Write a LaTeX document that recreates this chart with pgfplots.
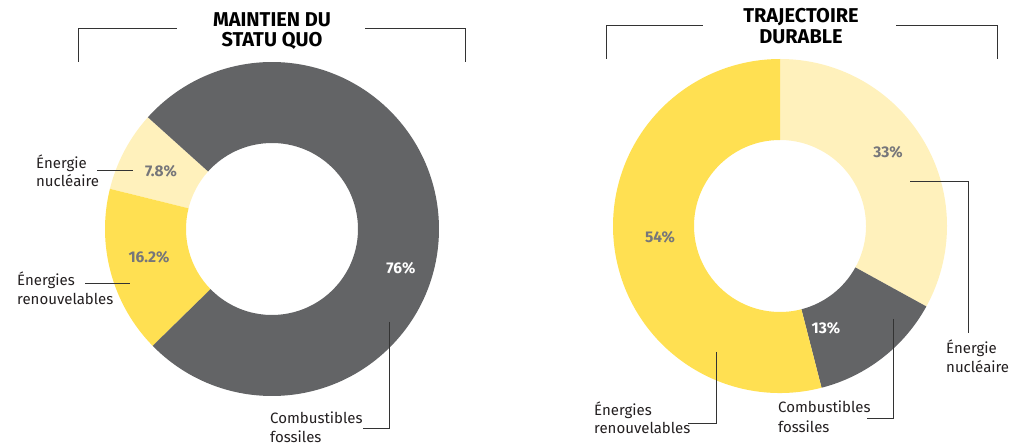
\documentclass[border=0pt]{standalone}
\usepackage{pgfplots}
\usepackage{pgfplotstable}
\pgfplotsset{compat=1.18}
\usepackage{fontspec}
\setmainfont{Fira Sans}
\definecolor{fos}{HTML}{636466}
\definecolor{ren}{HTML}{FFE052}
\definecolor{nuc}{HTML}{FFF1BC}
\definecolor{pct}{HTML}{76767A}
\definecolor{ln}{HTML}{333333}
\definecolor{txt}{HTML}{231F20}
\newcommand\lab{\fontsize{15}{18}\selectfont}
\newcommand\pc{\fontsize{15.5}{18}\selectfont\bfseries}
\newcommand\ttl{\fontsize{20}{23}\selectfont\bfseries}
% donut segment: cx, cy, start angle, end angle, colour
\newcommand\seg[5]{\fill[#5, shift={(axis cs:#1,#2)}] (#3:167pt) arc[start angle=#3,end angle=#4,radius=167pt] -- (#4:86pt) arc[start angle=#4,end angle=#3,radius=86pt] -- cycle;}

\pgfplotstableread{
seg value
nuc 7.8
ren 16.2
fos 76
}\statuquo
\pgfplotstableread{
seg value
nuc 33
fos 13
ren 54
}\durable

\begin{document}
\begin{tikzpicture}
% left: counter-clockwise from 138 deg
\pgfplotstablegetelem{0}{value}\of\statuquo \pgfmathsetmacro\La{138}
\pgfmathsetmacro\Lb{\La+3.6*\pgfplotsretval}
\pgfplotstablegetelem{1}{value}\of\statuquo \pgfmathsetmacro\Lc{\Lb+3.6*\pgfplotsretval}
\pgfplotstablegetelem{2}{value}\of\statuquo \pgfmathsetmacro\Ld{\Lc+3.6*\pgfplotsretval}
% right: clockwise from 90 deg
\pgfplotstablegetelem{0}{value}\of\durable \pgfmathsetmacro\Ra{90}
\pgfmathsetmacro\Rb{\Ra-3.6*\pgfplotsretval}
\pgfplotstablegetelem{1}{value}\of\durable \pgfmathsetmacro\Rc{\Rb-3.6*\pgfplotsretval}
\pgfplotstablegetelem{2}{value}\of\durable \pgfmathsetmacro\Rd{\Rc-3.6*\pgfplotsretval}
\begin{axis}[x=1pt, y=1pt, y dir=reverse, xmin=0, xmax=1023, ymin=0, ymax=446,
  hide axis, clip=false, scale only axis]
\path (axis cs:0,0) rectangle (axis cs:1023,446);
% left donut
\seg{272}{229}{\La}{\Lb}{nuc}
\seg{272}{229}{\Lb}{\Lc}{ren}
\seg{272}{229}{\Lc}{\Ld}{fos}
% right donut
\seg{780}{226}{\Ra}{\Rb}{nuc}
\seg{780}{226}{\Rb}{\Rc}{fos}
\seg{780}{226}{\Rc}{\Rd}{ren}
% title brackets
\draw[ln, line width=0.9pt] (axis cs:78,62) -- (axis cs:78,28) -- (axis cs:177,28);
\draw[ln, line width=0.9pt] (axis cs:365,28) -- (axis cs:465,28) -- (axis cs:465,62);
\draw[ln, line width=0.9pt] (axis cs:606,59) -- (axis cs:606,25) -- (axis cs:703,25);
\draw[ln, line width=0.9pt] (axis cs:896,25) -- (axis cs:997,25) -- (axis cs:997,59);
\node[anchor=base, inner sep=0, font=\ttl, text=black] at (axis cs:272,27) {MAINTIEN DU};
\node[anchor=base, inner sep=0, font=\ttl, text=black] at (axis cs:272,47) {STATU QUO};
\node[anchor=base, inner sep=0, font=\ttl, text=black] at (axis cs:801,23) {TRAJECTOIRE};
\node[anchor=base, inner sep=0, font=\ttl, text=black] at (axis cs:801,44) {DURABLE};
% leader lines
\draw[ln, line width=0.9pt] (axis cs:97,170) -- (axis cs:133,170);
\draw[ln, line width=0.9pt] (axis cs:85,283) -- (axis cs:130,283);
\draw[ln, line width=0.9pt] (axis cs:389,322) -- (axis cs:389,428) -- (axis cs:363,428);
\draw[ln, line width=0.9pt] (axis cs:910,181) -- (axis cs:968,181) -- (axis cs:968,333);
\draw[ln, line width=0.9pt] (axis cs:893,319) -- (axis cs:893,418) -- (axis cs:867,418);
\draw[ln, line width=0.9pt] (axis cs:716,352) -- (axis cs:716,423) -- (axis cs:688,423);
% percentages
\node[inner sep=0, font=\pc, text=pct] at (axis cs:161,171) {7.8\%};
\node[inner sep=0, font=\pc, text=pct] at (axis cs:149,257) {16.2\%};
\node[inner sep=0, font=\pc, text=white] at (axis cs:401,268) {76\%};
\node[inner sep=0, font=\pc, text=pct] at (axis cs:888,152) {33\%};
\node[inner sep=0, font=\pc, text=white] at (axis cs:826,328) {13\%};
\node[inner sep=0, font=\pc, text=pct] at (axis cs:660,237) {54\%};
% labels
\node[anchor=base west, inner sep=0, font=\lab, text=txt] at (axis cs:36,169) {Énergie};
\node[anchor=base west, inner sep=0, font=\lab, text=txt] at (axis cs:36,187) {nucléaire};
\node[anchor=base west, inner sep=0, font=\lab, text=txt] at (axis cs:17,286) {Énergies};
\node[anchor=base west, inner sep=0, font=\lab, text=txt] at (axis cs:17,305) {renouvelables};
\node[anchor=base west, inner sep=0, font=\lab, text=txt] at (axis cs:270,423) {Combustibles};
\node[anchor=base west, inner sep=0, font=\lab, text=txt] at (axis cs:270,442) {fossiles};
\node[anchor=base west, inner sep=0, font=\lab, text=txt] at (axis cs:946,353) {Énergie};
\node[anchor=base west, inner sep=0, font=\lab, text=txt] at (axis cs:946,372) {nucléaire};
\node[anchor=base west, inner sep=0, font=\lab, text=txt] at (axis cs:778,412) {Combustibles};
\node[anchor=base west, inner sep=0, font=\lab, text=txt] at (axis cs:778,432) {fossiles};
\node[anchor=base west, inner sep=0, font=\lab, text=txt] at (axis cs:594,415) {Énergies};
\node[anchor=base west, inner sep=0, font=\lab, text=txt] at (axis cs:594,433) {renouvelables};
\end{axis}
\end{tikzpicture}
\end{document}
